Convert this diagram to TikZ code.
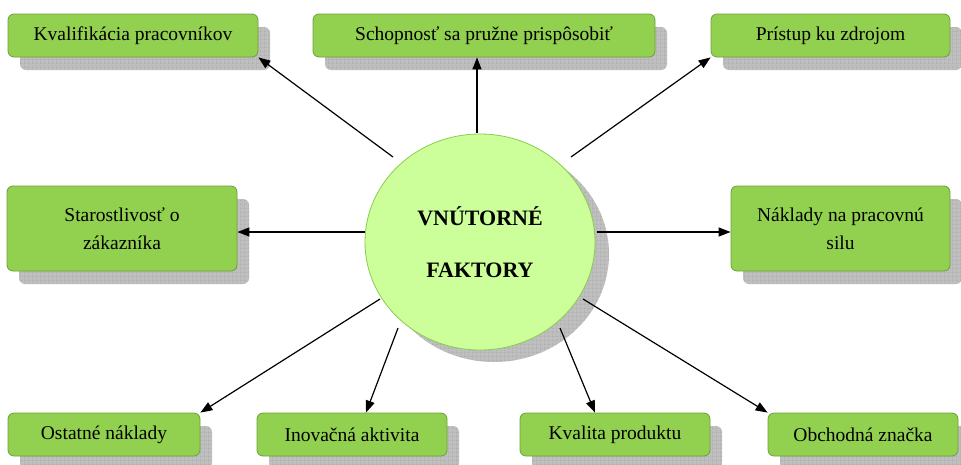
\documentclass[tikz,border=0pt]{standalone}
\usepackage{fontspec}
\setmainfont{Liberation Serif}
\usetikzlibrary{arrows.meta,shapes.geometric,patterns,calc}
\definecolor{boxgreen}{HTML}{92D050}
\definecolor{boxedge}{HTML}{6E9E3C}
\definecolor{circfill}{HTML}{CCFF99}
\definecolor{circedge}{HTML}{8CCB50}
\pgfdeclarepatternformonly{mygrid}{\pgfpointorigin}{\pgfpoint{4pt}{4pt}}{\pgfpoint{4pt}{4pt}}{%
  \pgfsetlinewidth{0.5pt}%
  \pgfpathmoveto{\pgfpointorigin}\pgfpathlineto{\pgfpoint{4pt}{0pt}}%
  \pgfpathmoveto{\pgfpointorigin}\pgfpathlineto{\pgfpoint{0pt}{4pt}}%
  \pgfusepath{stroke}}
\tikzset{
  shadowfill/.style={preaction={fill=gray!50}, pattern=mygrid, pattern color=gray!95},
  gbox/.style={draw=boxedge, line width=0.8pt, fill=boxgreen, rounded corners=6pt,
    align=center, font=\fontsize{19.5}{28}\selectfont, inner sep=0pt},
  conn/.style={line width=1.2pt, -{Triangle[length=12pt,width=9pt]}},
}
\newcommand{\gboxnode}[6]{%
  \path[shadowfill, rounded corners=6pt] ({#2-#4/2+12},{#3-#5/2+13}) rectangle ++(#4,#5);
  \node[gbox, minimum width=#4pt, minimum height=#5pt] (#1) at (#2,#3) {#6};
}
\begin{document}
\begin{tikzpicture}[x=1pt,y=-1pt]
\useasboundingbox (0,0) rectangle (961,464);
% boxes
\gboxnode{k1}{133}{35.5}{250}{43}{Kvalifikácia pracovníkov}
\gboxnode{k2}{484}{35.5}{342}{43}{Schopnosť sa pružne prispôsobiť}
\gboxnode{k3}{830.5}{35.5}{239}{43}{Prístup ku zdrojom}
\gboxnode{k4}{122}{228.5}{230}{85}{Starostlivosť o\\zákazníka}
\gboxnode{k5}{840.5}{228.5}{219}{85}{Náklady na pracovnú\\silu}
\gboxnode{k6}{104}{434.5}{192}{43}{Ostatné náklady}
\gboxnode{k7}{352}{434.5}{190}{43}{Inovačná aktivita}
\gboxnode{k8}{615}{434.5}{190}{43}{Kvalita produktu}
\gboxnode{k9}{863}{434.5}{190}{43}{Obchodná značka}
% central ellipse
\path[shadowfill] (494,254) ellipse [x radius=115, y radius=108];
\node[ellipse, draw=circedge, line width=0.8pt, fill=circfill, minimum width=230pt,
  minimum height=216pt, inner sep=0pt, align=center,
  font=\fontsize{22}{52}\selectfont\bfseries] (c) at (480,242) {VNÚTORNÉ\\FAKTORY};
% connector start points
\coordinate (s1) at (393,157);
\coordinate (s2) at (477,133);
\coordinate (s3) at (571,157);
\coordinate (s4) at (365,232);
\coordinate (s5) at (597,232);
\coordinate (s6) at (380,299);
\coordinate (s7) at (398,328);
\coordinate (s8) at (560,328);
\coordinate (s9) at (583,299);
% connectors
\draw[conn] (s1) -- (k1.south east);
\draw[conn] (s2) -- (s2 |- k2.south);
\draw[conn] (s3) -- (k3.south west);
\draw[conn] (s4) -- (s4 -| k4.east);
\draw[conn] (s5) -- (s5 -| k5.west);
\draw[conn] (s6) -- (k6.north east);
\draw[conn] (s7) -- ($(k7.north)+(14,0)$);
\draw[conn] (s8) -- ($(k8.north)+(-20,0)$);
\draw[conn] (s9) -- (k9.north west);
\end{tikzpicture}
\end{document}
